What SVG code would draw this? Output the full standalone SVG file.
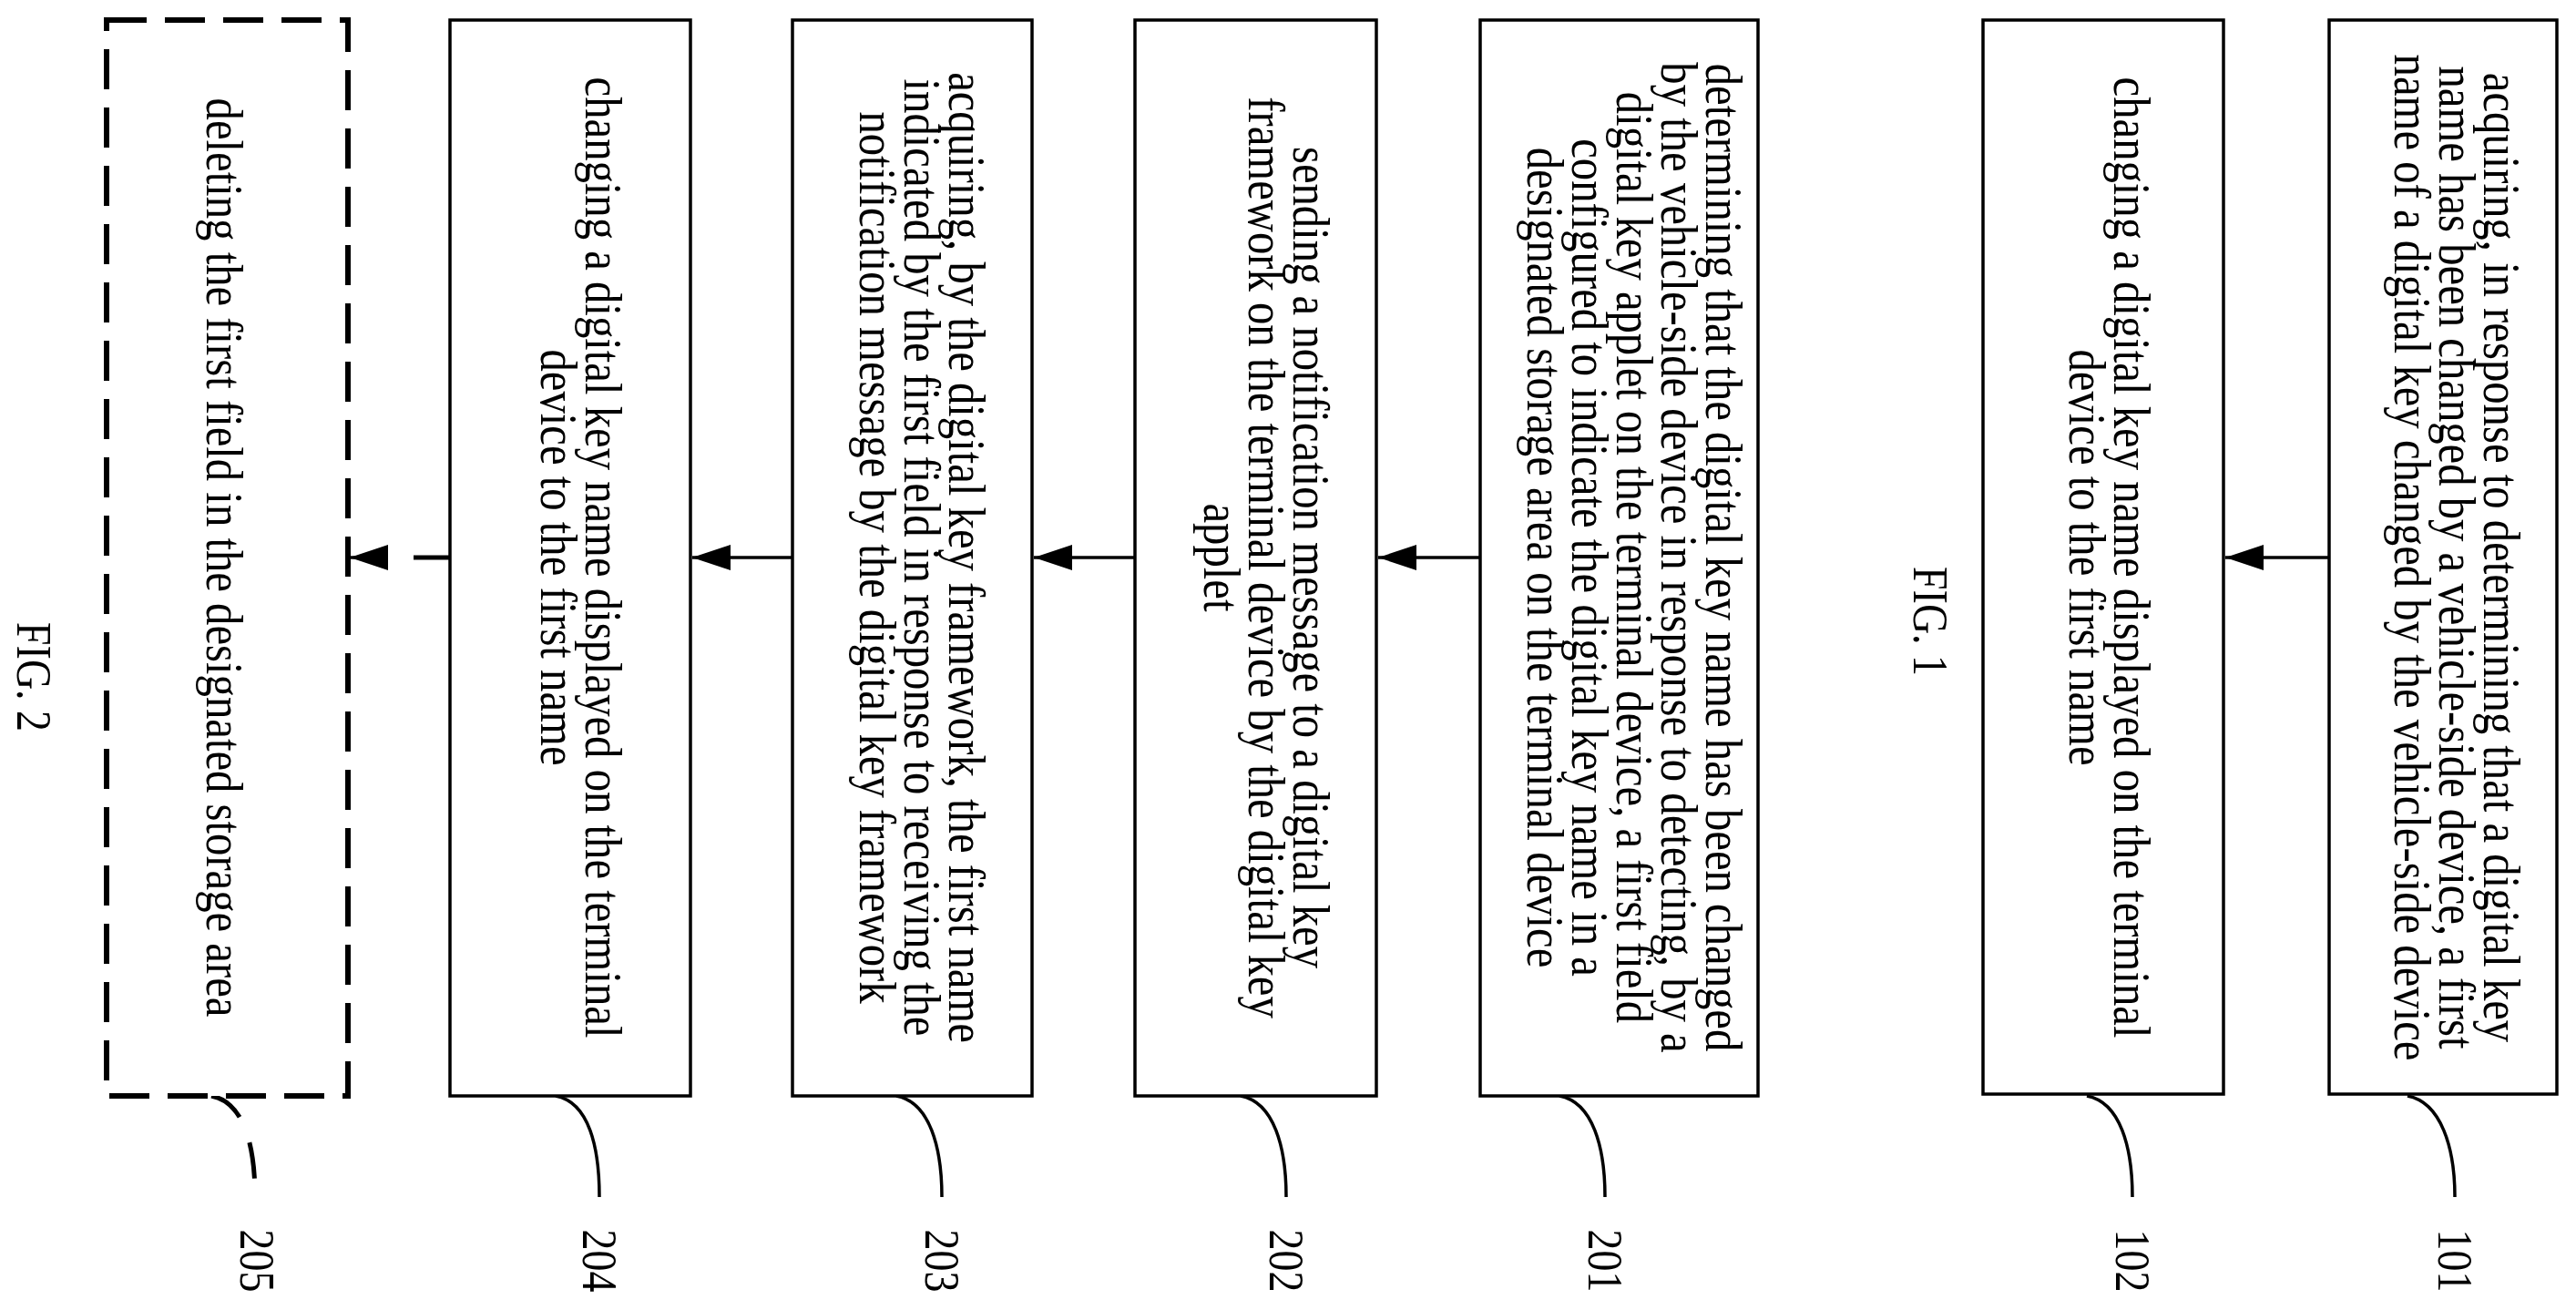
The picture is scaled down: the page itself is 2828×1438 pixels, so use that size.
<svg xmlns="http://www.w3.org/2000/svg" width="2828" height="1438" viewBox="0 0 2828 1438">
<style>
.box{fill:#fff;stroke:#000;stroke-width:3.5}
.dbox{fill:#fff;stroke:#000;stroke-width:6;stroke-dasharray:44 20}
.t{font-family:"Liberation Serif",serif;font-size:56px;fill:#000;text-anchor:middle;dominant-baseline:central}
.lbl{font-family:"Liberation Serif",serif;font-size:54px;fill:#000;text-anchor:middle;dominant-baseline:central}
.ln{fill:none;stroke:#000;stroke-width:3.5}
.dln{fill:none;stroke:#000;stroke-width:5;stroke-dasharray:40 30}
</style>
<defs>
<marker id="ah" markerWidth="12" markerHeight="8" refX="12" refY="4" orient="auto" markerUnits="strokeWidth">
<path d="M0,0 L12,4 L0,8 Z" fill="#000"/>
</marker>
</defs>
<rect width="2828" height="1438" fill="#fff"/>
<g id="connectors">
<line class="ln" x1="2557" y1="612" x2="2443" y2="612" marker-end="url(#ah)"/>
<line class="ln" x1="1625" y1="612" x2="1513" y2="612" marker-end="url(#ah)"/>
<line class="ln" x1="1246" y1="612" x2="1135" y2="612" marker-end="url(#ah)"/>
<line class="ln" x1="870" y1="612" x2="760" y2="612" marker-end="url(#ah)"/>
<path class="dln" d="M494,612 L420,612" />
<line class="ln" x1="420" y1="612" x2="384" y2="612" stroke-width="4" marker-end="url(#ah)"/>
<path class="ln" d="M2643,1203 C2680,1210 2695,1260 2695,1314"/>
<path class="ln" d="M2291,1203 C2328,1210 2341,1260 2341,1314"/>
<path class="ln" d="M1712,1203 C1749,1210 1762,1260 1762,1314"/>
<path class="ln" d="M1362,1203 C1399,1210 1412,1260 1412,1314"/>
<path class="ln" d="M984,1203 C1021,1210 1034,1260 1034,1314"/>
<path class="ln" d="M610,1203 C647,1210 658,1260 658,1314"/>
<path class="dln" d="M232,1203 C269,1210 280,1260 280,1314"/>
</g>
<g id="n101">
<rect class="box" x="2557" y="22" width="250" height="1179"/>
<g transform="translate(2697,612) rotate(90) scale(0.87,1)">
<text class="t" x="0" y="-49">acquiring, in response to determining that a digital key</text>
<text class="t" x="0" y="0">name has been changed by a vehicle-side device, a first</text>
<text class="t" x="0" y="49">name of a digital key changed by the vehicle-side device</text>
</g>
<text class="lbl" transform="translate(2695,1384) rotate(90) scale(0.85,1)">101</text>
</g>
<g id="n102">
<rect class="box" x="2177" y="22" width="264" height="1179"/>
<g transform="translate(2315,612) rotate(90) scale(0.87,1)">
<text class="t" x="0" y="-25">changing a digital key name displayed on the terminal</text>
<text class="t" x="0" y="24">device to the first name</text>
</g>
<text class="lbl" transform="translate(2341,1384) rotate(90) scale(0.85,1)">102</text>
</g>
<text class="lbl" transform="translate(2119,682) rotate(90) scale(0.85,1)">FIG. 1</text>
<g id="n201">
<rect class="box" x="1625" y="22" width="305" height="1181"/>
<g transform="translate(1794,612) rotate(90) scale(0.87,1)">
<text class="t" x="0" y="-98">determining that the digital key name has been changed</text>
<text class="t" x="0" y="-49">by the vehicle-side device in response to detecting, by a</text>
<text class="t" x="0" y="0">digital key applet on the terminal device, a first field</text>
<text class="t" x="0" y="49">configured to indicate the digital key name in a</text>
<text class="t" x="0" y="98">designated storage area on the terminal device</text>
</g>
<text class="lbl" transform="translate(1762,1384) rotate(90) scale(0.85,1)">201</text>
</g>
<g id="n202">
<rect class="box" x="1246" y="22" width="265" height="1181"/>
<g transform="translate(1390,612) rotate(90) scale(0.87,1)">
<text class="t" x="0" y="-49">sending a notification message to a digital key</text>
<text class="t" x="0" y="0">framework on the terminal device by the digital key</text>
<text class="t" x="0" y="49">applet</text>
</g>
<text class="lbl" transform="translate(1412,1384) rotate(90) scale(0.85,1)">202</text>
</g>
<g id="n203">
<rect class="box" x="870" y="22" width="263" height="1181"/>
<g transform="translate(1012,612) rotate(90) scale(0.87,1)">
<text class="t" x="0" y="-49">acquiring, by the digital key framework, the first name</text>
<text class="t" x="0" y="0">indicated by the first field in response to receiving the</text>
<text class="t" x="0" y="49">notification message by the digital key framework</text>
</g>
<text class="lbl" transform="translate(1034,1384) rotate(90) scale(0.85,1)">203</text>
</g>
<g id="n204">
<rect class="box" x="494" y="22" width="264" height="1181"/>
<g transform="translate(637,612) rotate(90) scale(0.87,1)">
<text class="t" x="0" y="-25">changing a digital key name displayed on the terminal</text>
<text class="t" x="0" y="24">device to the first name</text>
</g>
<text class="lbl" transform="translate(658,1384) rotate(90) scale(0.85,1)">204</text>
</g>
<g id="n205">
<rect class="dbox" x="117" y="22" width="265" height="1181"/>
<g transform="translate(246,612) rotate(90) scale(0.87,1)">
<text class="t" x="0" y="0">deleting the first field in the designated storage area</text>
</g>
<text class="lbl" transform="translate(282,1384) rotate(90) scale(0.85,1)">205</text>
</g>
<text class="lbl" transform="translate(37,743) rotate(90) scale(0.85,1)">FIG. 2</text>
</svg>
